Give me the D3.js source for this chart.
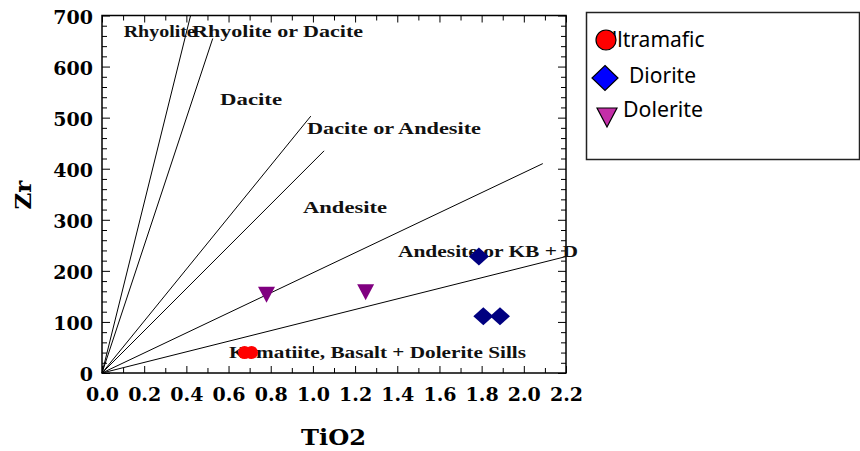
<!DOCTYPE html>
<html>
<head>
<meta charset="utf-8">
<script src="https://cdn.jsdelivr.net/npm/d3@7/dist/d3.min.js"></script>
<style>
  html, body { margin: 0; padding: 0; background: #fff; }
  svg { display: block; }
</style>
</head>
<body>
<svg id="chart" width="860" height="451"></svg>
<script>
// Zr vs TiO2 discrimination diagram

// Sample groups (TiO2 wt%, Zr ppm)
const ultramaficTiO2 = [0.676, 0.709];
const ultramaficZr   = [40, 40];
const dioriteTiO2 = [1.787, 1.808, 1.887];
const dioriteZr   = [228, 111, 111];
const doleriteTiO2 = [0.78, 1.25];
const doleriteZr   = [157, 162];

// Field boundaries: straight lines from the origin to these end points
const boundaryTiO2 = [0.42, 0.525, 0.99, 1.053, 2.09, 2.2];
const boundaryZr   = [700, 655, 503, 435, 410, 228];

// Field names with anchor (TiO2, Zr) and rendered width
const fieldNames = ["Rhyolite", "Rhyolite or Dacite", "Dacite", "Dacite or Andesite",
                    "Andesite", "Andesite or KB + D", "Komatiite, Basalt + Dolerite Sills"];
const fieldTiO2  = [0.103, 0.427, 0.56, 0.972, 0.953, 1.403, 0.602];
const fieldZr    = [658, 658, 524, 467, 313, 227, 29];
const fieldWidth = [72, 171, 62, 174, 84, 180, 297];

// Axis ticks
const xMajorTicks = [0.0, 0.2, 0.4, 0.6, 0.8, 1.0, 1.2, 1.4, 1.6, 1.8, 2.0, 2.2];
const xMinorTicks = [0.1, 0.3, 0.5, 0.7, 0.9, 1.1, 1.3, 1.5, 1.7, 1.9, 2.1];
const yMajorTicks = [0, 100, 200, 300, 400, 500, 600, 700];
const yMinorTicks = [20, 40, 60, 80, 120, 140, 160, 180, 220, 240, 260, 280, 320, 340, 360, 380,
                     420, 440, 460, 480, 520, 540, 560, 580, 620, 640, 660, 680];

const legendNames = ["Ultramafic", "Diorite", "Dolerite"];

const svg = d3.select("#chart");
const plotLeft = 102, plotRight = 566, plotTop = 15.5, plotBottom = 373;

const x = d3.scaleLinear().domain([0, 2.2]).range([plotLeft, plotRight]);
const y = d3.scaleLinear().domain([0, 700]).range([plotBottom, plotTop]);

const serif = "'DejaVu Serif', serif";
const timesLike = "'Liberation Serif', 'Times New Roman', serif";

function styleAxis(g) {
  g.select(".domain").remove();
  g.selectAll(".tick line").attr("stroke", "#000").attr("stroke-width", 1);
  g.selectAll("text")
    .attr("font-family", serif)
    .attr("font-weight", "bold")
    .attr("font-size", 19)
    .attr("fill", "#000");
}

// Bottom axis
svg.append("g").attr("transform", `translate(0,${plotBottom})`)
  .call(d3.axisBottom(x).tickValues(xMajorTicks).tickFormat(d3.format(".1f"))
    .tickSizeInner(-7).tickSizeOuter(0).tickPadding(15))
  .call(styleAxis);
svg.append("g").attr("transform", `translate(0,${plotBottom})`)
  .call(d3.axisBottom(x).tickValues(xMinorTicks).tickFormat("")
    .tickSizeInner(-5).tickSizeOuter(0))
  .call(styleAxis);

// Top axis
svg.append("g").attr("transform", `translate(0,${plotTop})`)
  .call(d3.axisTop(x).tickValues(xMajorTicks).tickFormat("")
    .tickSizeInner(-7).tickSizeOuter(0))
  .call(styleAxis);
svg.append("g").attr("transform", `translate(0,${plotTop})`)
  .call(d3.axisTop(x).tickValues(xMinorTicks).tickFormat("")
    .tickSizeInner(-5).tickSizeOuter(0))
  .call(styleAxis);

// Left axis
svg.append("g").attr("transform", `translate(${plotLeft},0)`)
  .call(d3.axisLeft(y).tickValues(yMajorTicks).tickFormat(d3.format("d"))
    .tickSizeInner(-8).tickSizeOuter(0).tickPadding(9))
  .call(styleAxis)
  .call(g => g.selectAll("text").attr("dy", "0.42em"));
svg.append("g").attr("transform", `translate(${plotLeft},0)`)
  .call(d3.axisLeft(y).tickValues(yMinorTicks).tickFormat("")
    .tickSizeInner(-5).tickSizeOuter(0))
  .call(styleAxis);

// Right axis
svg.append("g").attr("transform", `translate(${plotRight},0)`)
  .call(d3.axisRight(y).tickValues(yMajorTicks).tickFormat("")
    .tickSizeInner(-8).tickSizeOuter(0))
  .call(styleAxis);
svg.append("g").attr("transform", `translate(${plotRight},0)`)
  .call(d3.axisRight(y).tickValues(yMinorTicks).tickFormat("")
    .tickSizeInner(-5).tickSizeOuter(0))
  .call(styleAxis);

// Plot frame
svg.append("rect")
  .attr("x", plotLeft).attr("y", plotTop)
  .attr("width", plotRight - plotLeft).attr("height", plotBottom - plotTop)
  .attr("fill", "none").attr("stroke", "#000").attr("stroke-width", 1.5);

// Axis titles
svg.append("text")
  .attr("x", 333.5).attr("y", 445)
  .attr("text-anchor", "middle")
  .attr("font-family", serif).attr("font-weight", "bold").attr("font-size", 23)
  .attr("textLength", 65).attr("lengthAdjust", "spacingAndGlyphs")
  .text("TiO2");
svg.append("text")
  .attr("transform", "translate(31,195) rotate(-90)")
  .attr("text-anchor", "middle")
  .attr("font-family", serif).attr("font-weight", "bold").attr("font-size", 23)
  .text("Zr");

// Field boundaries
svg.append("g").selectAll("line")
  .data(boundaryTiO2.map((t, i) => ({ t, z: boundaryZr[i] })))
  .join("line")
  .attr("x1", x(0)).attr("y1", y(0))
  .attr("x2", d => x(d.t)).attr("y2", d => y(d.z))
  .attr("stroke", "#000").attr("stroke-width", 1);

// Field names
svg.append("g").selectAll("text")
  .data(fieldNames.map((n, i) => ({ n, t: fieldTiO2[i], z: fieldZr[i], w: fieldWidth[i] })))
  .join("text")
  .attr("x", d => x(d.t)).attr("y", d => y(d.z))
  .attr("font-family", timesLike).attr("font-weight", "bold").attr("font-size", 17)
  .attr("textLength", d => d.w).attr("lengthAdjust", "spacingAndGlyphs")
  .attr("fill", "#111")
  .text(d => d.n);

// Samples
const pts = svg.append("g");
pts.selectAll("circle")
  .data(ultramaficTiO2.map((t, i) => ({ t, z: ultramaficZr[i] })))
  .join("circle")
  .attr("cx", d => x(d.t)).attr("cy", d => y(d.z)).attr("r", 6.5)
  .attr("fill", "#ff0000");

const diamond = "M0,-9L10,0L0,9L-10,0Z";
pts.selectAll("path.dio")
  .data(dioriteTiO2.map((t, i) => ({ t, z: dioriteZr[i] })))
  .join("path").attr("class", "dio")
  .attr("transform", d => `translate(${x(d.t)},${y(d.z)})`)
  .attr("d", diamond)
  .attr("fill", "#000080");

const triDown = "M-8.5,-6L8.5,-6L0,10Z";
pts.selectAll("path.dol")
  .data(doleriteTiO2.map((t, i) => ({ t, z: doleriteZr[i] })))
  .join("path").attr("class", "dol")
  .attr("transform", d => `translate(${x(d.t)},${y(d.z)})`)
  .attr("d", triDown)
  .attr("fill", "#800080");

// Legend
const legend = svg.append("g");
legend.append("rect")
  .attr("x", 586.5).attr("y", 12.5).attr("width", 273).attr("height", 147)
  .attr("fill", "#fff").attr("stroke", "#222").attr("stroke-width", 1.5);

const sans = "'Noto Sans', 'Open Sans', sans-serif";
legend.append("text").attr("x", 602).attr("y", 47)
  .attr("font-family", sans).attr("font-size", 21).text(legendNames[0]);
legend.append("circle").attr("cx", 606).attr("cy", 40).attr("r", 10)
  .attr("fill", "#ff0000").attr("stroke", "#000").attr("stroke-width", 1.2);

legend.append("path").attr("transform", "translate(605,78)")
  .attr("d", "M0,-12.5L13,0L0,12.5L-13,0Z")
  .attr("fill", "#0000ff").attr("stroke", "#000").attr("stroke-width", 1.2);
legend.append("text").attr("x", 629).attr("y", 83)
  .attr("font-family", sans).attr("font-size", 21)
  .attr("textLength", 67).attr("lengthAdjust", "spacingAndGlyphs").text(legendNames[1]);

legend.append("path").attr("transform", "translate(607,114)")
  .attr("d", "M-10,-6L10,-6L0,13Z")
  .attr("fill", "#c42ea8").attr("stroke", "#000").attr("stroke-width", 1.2);
legend.append("text").attr("x", 623).attr("y", 117)
  .attr("font-family", sans).attr("font-size", 21)
  .attr("textLength", 80).attr("lengthAdjust", "spacingAndGlyphs").text(legendNames[2]);
</script>
</body>
</html>
